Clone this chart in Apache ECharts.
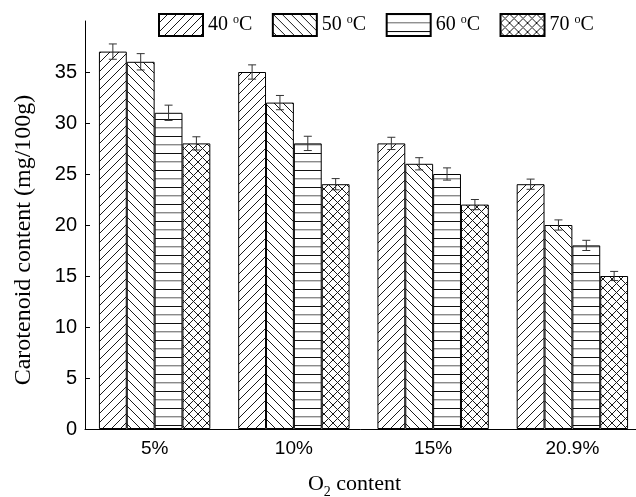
<!DOCTYPE html>
<html>
<head>
<meta charset="utf-8">
<script src="https://cdn.jsdelivr.net/npm/echarts@6/dist/echarts.min.js"></script>
<style>html,body{margin:0;padding:0;background:#fff;}#c{width:636px;height:497px;}</style>
</head>
<body>
<div id="c"></div>
<script>
const categories = ['5%', '10%', '15%', '20.9%'];
const temps = ['40 °C', '50 °C', '60 °C', '70 °C'];
const v40 = [37, 35, 28, 24];
const v50 = [36, 32, 26, 20];
const v60 = [31, 28, 25, 18];
const v70 = [28, 24, 22, 15];
const e40 = [0.75, 0.7, 0.6, 0.5];
const e50 = [0.8, 0.7, 0.6, 0.5];
const e60 = [0.75, 0.7, 0.6, 0.5];
const e70 = [0.65, 0.55, 0.5, 0.45];
const yTicks = [0, 5, 10, 15, 20, 25, 30, 35];

const values = [v40, v50, v60, v70];
const errors = [e40, e50, e60, e70];

function makePattern(kind) {
  const c = document.createElement('canvas');
  const s = 9;
  c.width = s; c.height = kind === 'h' ? 17 : s;
  const ctx = c.getContext('2d');
  ctx.fillStyle = '#fff';
  ctx.fillRect(0, 0, c.width, c.height);
  ctx.strokeStyle = '#1a1a1a';
  ctx.lineWidth = 1;
  if (kind === 'h') {
    ctx.fillStyle = '#111';
    ctx.fillRect(0, 0, s, 1);
    ctx.fillStyle = '#8a8a8a';
    ctx.fillRect(0, 8, s, 1);
    ctx.fillStyle = '#cfcfcf';
    ctx.fillRect(0, 9, s, 1);
    return c;
  }
  ctx.beginPath();
  if (kind === 'f' || kind === 'x') {
    ctx.moveTo(-1, s + 1); ctx.lineTo(s + 1, -1);
    ctx.moveTo(-2, 2); ctx.lineTo(2, -2);
    ctx.moveTo(s - 2, s + 2); ctx.lineTo(s + 2, s - 2);
  }
  if (kind === 'b' || kind === 'x') {
    ctx.moveTo(-1, -1); ctx.lineTo(s + 1, s + 1);
    ctx.moveTo(-2, s - 2); ctx.lineTo(2, s + 2);
    ctx.moveTo(s - 2, -2); ctx.lineTo(s + 2, 2);
  }
  ctx.stroke();
  return c;
}
const patterns = [makePattern('f'), makePattern('b'), makePattern('h'), makePattern('x')];

const serif = '"Liberation Serif", "Times New Roman", serif';
const sans = '"Liberation Sans", Arial, Helvetica, sans-serif';
const catGap = 0.2;

const barSeries = temps.map((t, i) => ({
  name: t,
  type: 'bar',
  data: values[i],
  barGap: '0%',
  barCategoryGap: (catGap * 100) + '%',
  itemStyle: {
    color: { image: patterns[i], repeat: 'repeat' },
    borderColor: '#000',
    borderWidth: 1
  },
  emphasis: { disabled: true }
}));

const errData = [];
values.forEach((arr, s) => {
  arr.forEach((v, k) => {
    errData.push([k, v - errors[s][k], v + errors[s][k], s]);
  });
});

const errSeries = {
  type: 'custom',
  name: 'err',
  z: 10,
  silent: true,
  encode: { x: 0, y: [1, 2] },
  data: errData,
  renderItem: function (params, api) {
    const cat = api.value(0), lo = api.value(1), hi = api.value(2), s = api.value(3);
    const bandW = api.size([1, 0])[0];
    const barW = bandW * (1 - catGap) / temps.length;
    const pLo = api.coord([cat, lo]);
    const pHi = api.coord([cat, hi]);
    const x = pLo[0] + (s - (temps.length - 1) / 2) * barW;
    const hw = 4;
    const st = { stroke: '#333', lineWidth: 1 };
    return {
      type: 'group',
      children: [
        { type: 'line', shape: { x1: x, y1: pLo[1], x2: x, y2: pHi[1] }, style: st },
        { type: 'line', shape: { x1: x - hw, y1: pLo[1], x2: x + hw, y2: pLo[1] }, style: st },
        { type: 'line', shape: { x1: x - hw, y1: pHi[1], x2: x + hw, y2: pHi[1] }, style: st }
      ]
    };
  }
};

const chart = echarts.init(document.getElementById('c'), null, { renderer: 'canvas' });
chart.setOption({
  animation: false,
  backgroundColor: '#fff',
  grid: { left: 85, top: 21, width: 557, height: 408, outerBoundsMode: 'none', containLabel: false },
  legend: {
    data: temps,
    left: 153,
    top: 8,
    itemWidth: 44,
    itemHeight: 22,
    itemGap: 19.5,
    icon: 'rect',
    formatter: function (name) {
      const n = name.split(' ')[0];
      return '{a|' + n + ' }{s|o}{a|C}';
    },
    textStyle: {
      fontFamily: serif,
      color: '#000',
      rich: {
        a: { fontFamily: serif, fontSize: 20, lineHeight: 22, color: '#000' },
        s: { fontFamily: serif, fontSize: 12, lineHeight: 6, verticalAlign: 'top', color: '#000' }
      }
    }
  },
  xAxis: {
    type: 'category',
    data: categories,
    name: '{a|O}{s|2}{a| content}',
    nameLocation: 'middle',
    nameGap: 40,
    nameTextStyle: {
      fontFamily: serif,
      color: '#000',
      padding: [0, 18, 0, 0],
      rich: {
        a: { fontFamily: serif, fontSize: 22, lineHeight: 30, color: '#000' },
        s: { fontFamily: serif, fontSize: 14, lineHeight: 8, verticalAlign: 'bottom', color: '#000' }
      }
    },
    axisLine: { lineStyle: { color: '#000', width: 1 } },
    axisTick: { inside: true, length: 3, lineStyle: { color: '#000' } },
    axisLabel: { fontFamily: sans, fontSize: 19, color: '#000', margin: 10 },
    splitLine: { show: false }
  },
  yAxis: {
    type: 'value',
    min: 0,
    max: 40,
    interval: 5,
    name: 'Carotenoid content (mg/100g)',
    nameLocation: 'middle',
    nameGap: 49,
    nameTextStyle: { fontFamily: serif, fontSize: 24, color: '#000', padding: [0, 30, 0, 0] },
    axisLine: { show: true, lineStyle: { color: '#000', width: 1 } },
    axisTick: { show: true, inside: true, length: 5, customValues: yTicks, lineStyle: { color: '#000' } },
    axisLabel: { fontFamily: sans, fontSize: 20, color: '#000', margin: 8, customValues: yTicks },
    splitLine: { show: false }
  },
  series: barSeries.concat([errSeries])
});
</script>
</body>
</html>
